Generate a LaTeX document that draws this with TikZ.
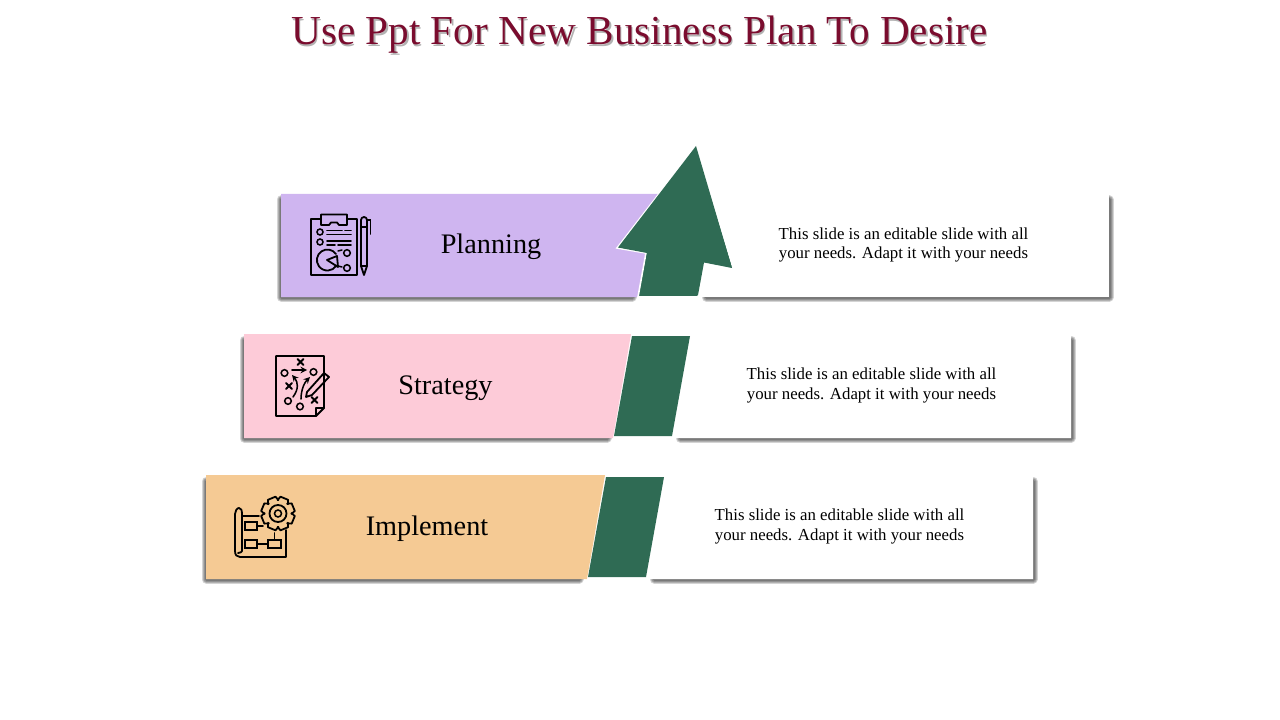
\documentclass[tikz,border=0pt]{standalone}
\usepackage{fontspec}
\setmainfont{Liberation Serif}
\definecolor{titlered}{RGB}{122,12,46}
\definecolor{arrowgreen}{RGB}{47,107,84}
\definecolor{planpurple}{RGB}{207,181,240}
\definecolor{stratpink}{RGB}{253,203,216}
\definecolor{implorange}{RGB}{245,202,148}
\tikzset{
  softedge/.style={draw=black,fill=black,draw opacity=0.17,fill opacity=0.17,line join=round},
  band/.style={draw=white,line width=1.2pt,line join=miter},
  icon/.style={draw=black,line width=1.35pt,line join=round,line cap=round},
  thinicon/.style={draw=black,line width=1.15pt,line cap=round},
  headlabel/.style={inner sep=0pt,text=black,font=\fontsize{21.2}{24}\selectfont},
  bodylabel/.style={inner sep=0pt,align=center,text=black,font=\fontsize{12.6}{14.3}\selectfont},
  titlelabel/.style={inner sep=0pt,font=\fontsize{30.9}{34}\selectfont},
}
\newcommand{\mycross}[2]{\draw [icon] (#1-3,#2-3) -- (#1+3,#2+3) (#1-3,#2+3) -- (#1+3,#2-3);}
\newcommand{\softbox}[4]{\foreach \w in {6.75,5.25,3.75,2.25} \draw [softedge,line width=\w pt] (#1,#2) rectangle (#3,#4);}
\begin{document}
\begin{tikzpicture}[x=0.75pt,y=0.75pt,yscale=-1,xscale=1]
\useasboundingbox (0,0) rectangle (1280,720);

%Shadows
\softbox{281}{200}{632}{297}
\softbox{706}{200}{1109}{297}
\softbox{244}{340}{607}{438}
\softbox{680}{340}{1071}{438}
\softbox{206}{481}{579}{579}
\softbox{654}{481}{1033}{579}

%Top band
\fill [planpurple] (281,194) -- (660,194) -- (660,297) -- (638,297) -- (281,297) -- cycle ;
\fill [white] (700,194) -- (1109,194) -- (1109,297) -- (700,297) -- cycle ;
\draw [band,fill=arrowgreen] (696,146) -- (617,248) -- (646,253) -- (638,297) -- (698,297) -- (704,263) -- (733,268) -- cycle ;
\fill [arrowgreen] (696,146) -- (618,247.5) -- (647,253) -- (640,295) -- (698,295) -- (704,262.5) -- (732,268) -- cycle ;

%Middle band
\fill [stratpink] (244,334) -- (631,334) -- (613,438) -- (244,438) -- cycle ;
\fill [white] (680,334) -- (1071,334) -- (1071,438) -- (662,438) -- cycle ;
\fill [arrowgreen] (632,336) -- (690,336) -- (672,436) -- (614,436) -- cycle ;

%Bottom band
\fill [implorange] (206,475) -- (605,475) -- (587,579) -- (206,579) -- cycle ;
\fill [white] (654,475) -- (1033,475) -- (1033,579) -- (636,579) -- cycle ;
\fill [arrowgreen] (606,477) -- (664,477) -- (646,577) -- (588,577) -- cycle ;

%Planning icon
\draw [icon] (321,219) -- (311,219) -- (311,275) -- (357,275) -- (357,219) -- (347,219) ;
\draw [icon] (321,214.5) -- (347,214.5) -- (347,225) -- (339,225) -- (337,222.5) -- (331,222.5) -- (329,225) -- (321,225) -- cycle ;
\draw [thinicon] (320,232) circle (3) (320,242) circle (3) (347,253) circle (3.3) (347,268) circle (3.3) ;
\draw [thinicon] (327,230.5) -- (342,230.5) (345,230.5) -- (351,230.5) (327,234.5) -- (351,234.5) (327,241) -- (351,241) (327,245) -- (335,245) (338,245) -- (351,245) ;
\draw [icon] (336,254) arc (-35:-325:10.5) ;
\draw [icon] (327,260) -- (337,256) -- (338,267) -- cycle ;
\draw [thinicon] (338,251) -- (342,250) (338,266) -- (342,267) ;
\draw [icon] (361,220) arc (180:360:3) -- (367,266) -- (364,275) -- (361,266) -- cycle ;
\draw [thinicon] (361,227) -- (367,227) (361,266) -- (367,266) (367,220) -- (370.5,220) -- (370.5,234) ;

%Strategy icon
\draw [icon] (316,416) -- (276,416) -- (276,356) -- (324,356) -- (324,408) -- cycle ;
\draw [icon] (316,416) -- (316,408) -- (324,408) ;
\draw [thinicon] (284.5,373) circle (3.3) (313.5,372) circle (3.3) (288,401) circle (3.3) (300,406.5) circle (3.3) ;
\mycross{300.5}{362}
\mycross{289}{386}
\mycross{314.5}{400}
\draw [thinicon,-stealth] (292,370) -- (307,370) ;
\draw [thinicon,-stealth] (293,397) .. controls (299,389) and (298,382) .. (292,375) ;
\draw [thinicon,-stealth] (301,399) .. controls (301,389) and (305,382) .. (310,377) ;
\draw [icon] (307,392) -- (324,373) -- (329,377) -- (312,395) -- (306,397) -- cycle ;

%Implement icon
\foreach \a in {0,45,...,315}
  \draw [icon,shift={(278,513.5)},rotate=\a+22.5] (-24:13.5) -- (-14:17) -- (14:17) -- (24:13.5) -- (45-24:13.5) ;
\draw [icon] (278,513.5) circle (8.5) ;
\draw [thinicon] (278,513.5) circle (3.5) ;
\draw [icon] (242,516) -- (259,516) (242,557) -- (240,557) .. controls (237,557) and (235,555) .. (235,551) -- (235,514) .. controls (235,511) and (237,508) .. (239,508) .. controls (241,508) and (242,510) .. (242,514) -- (242,551) .. controls (242,553) and (240,552) .. (238,553) (240,557) -- (286,557) -- (286,530) ;
\draw [thinicon] (245,522) rectangle (257,530) (245,540) rectangle (257,548) (268,540) rectangle (281,548) ;
\draw [thinicon] (257,526) -- (263,526) (257,544) -- (268,544) (274.5,540) -- (274.5,533) ;

% Text Node
\node [titlelabel,text=black!30] (titleshade) at (641,36.5) {Use Ppt For New Business Plan To Desire};
\node [titlelabel,text=titlered] (title) at (639.5,35) {Use Ppt For New Business Plan To Desire};
\node [headlabel] (planning) at (491,246.5) {Planning};
\node [headlabel] (strategy) at (445.5,388) {Strategy};
\node [headlabel] (implement) at (427,528.5) {Implement};
\node [bodylabel] (plantext) at (903.5,245) {This slide is an editable slide with all\\your needs. Adapt it with your needs};
\node [bodylabel] (strattext) at (871.5,385.5) {This slide is an editable slide with all\\your needs. Adapt it with your needs};
\node [bodylabel] (impltext) at (839.5,526.5) {This slide is an editable slide with all\\your needs. Adapt it with your needs};
\end{tikzpicture}
\end{document}
